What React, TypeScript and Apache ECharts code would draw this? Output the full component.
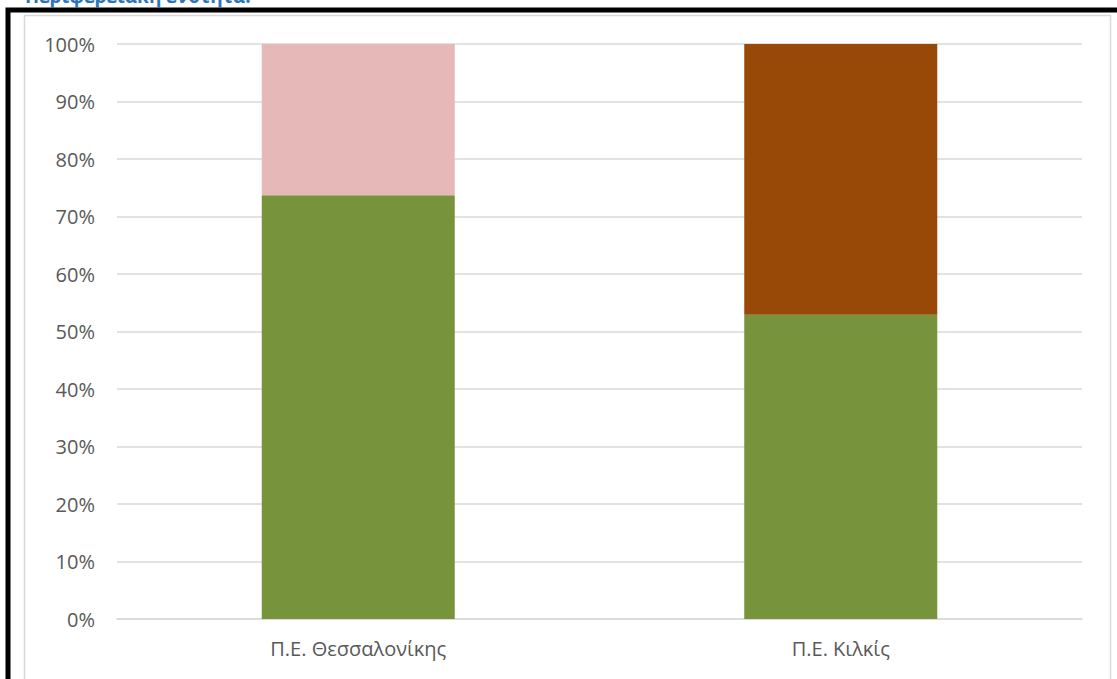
import React, { useEffect, useRef } from "react";
import * as echarts from "echarts";

const categories = ["Π.Ε. Θεσσαλονίκης", "Π.Ε. Κιλκίς"];
const greenValues = [73.7, 52.9];
const pinkValues = [26.3, null];
const brownValues = [null, 47.1];
const yTicks = [0, 10, 20, 30, 40, 50, 60, 70, 80, 90, 100];

export default function App() {
  const ref = useRef<HTMLDivElement>(null);
  useEffect(() => {
    const chart = echarts.init(ref.current!, null, { renderer: "svg" });
    chart.setOption({
      animation: false,
      backgroundColor: "#ffffff",
      graphic: [
        {
          type: "text",
          x: 25,
          y: 5,
          style: {
            text: "Περιφερειακή ενότητα:",
            fill: "#2E75B6",
            font: "bold 19px 'Open Sans', 'Noto Sans', sans-serif",
            verticalAlign: "bottom",
          },
          z: 10,
        },
        {
          type: "rect",
          shape: { x: 8, y: 10, width: 1300, height: 900 },
          style: { fill: "none", stroke: "#000000", lineWidth: 5 },
          z: 5,
        },
        {
          type: "rect",
          shape: { x: 24.5, y: 15.5, width: 1086, height: 900 },
          style: { fill: "none", stroke: "#d9d9d9", lineWidth: 1.5 },
          z: 5,
        },
      ],
      grid: { left: 117, right: 35, top: 44, bottom: 60, containLabel: false },
      xAxis: {
        type: "category",
        data: categories,
        axisLine: { show: true, lineStyle: { color: "#d9d9d9", width: 1.5 } },
        axisTick: { show: false },
        axisLabel: {
          color: "#595959",
          fontSize: 20,
          margin: 19,
          fontFamily: "'Open Sans', 'Noto Sans', sans-serif",
        },
      },
      yAxis: {
        type: "value",
        min: 0,
        max: 100,
        interval: 10,
        axisLine: { show: false },
        axisTick: { show: false },
        splitLine: { lineStyle: { color: "#d9d9d9", width: 1.5 } },
        axisLabel: {
          color: "#595959",
          fontSize: 20,
          margin: 22,
          fontFamily: "'Open Sans', 'Noto Sans', sans-serif",
          formatter: (v: number) => (yTicks.includes(v) ? v + "%" : ""),
        },
      },
      series: [
        {
          type: "bar",
          stack: "s",
          data: greenValues,
          barWidth: "40%",
          itemStyle: { color: "#77933C" },
        },
        {
          type: "bar",
          stack: "s",
          data: pinkValues,
          barWidth: "40%",
          itemStyle: { color: "#E6B9B8" },
        },
        {
          type: "bar",
          stack: "s",
          data: brownValues,
          barWidth: "40%",
          itemStyle: { color: "#984807" },
        },
      ],
    });
    return () => chart.dispose();
  }, []);
  return (
    <div style={{ position: "fixed", left: 0, top: 0, width: 1117, height: 679 }}>
      <div ref={ref} style={{ width: 1117, height: 679 }} />
    </div>
  );
}
